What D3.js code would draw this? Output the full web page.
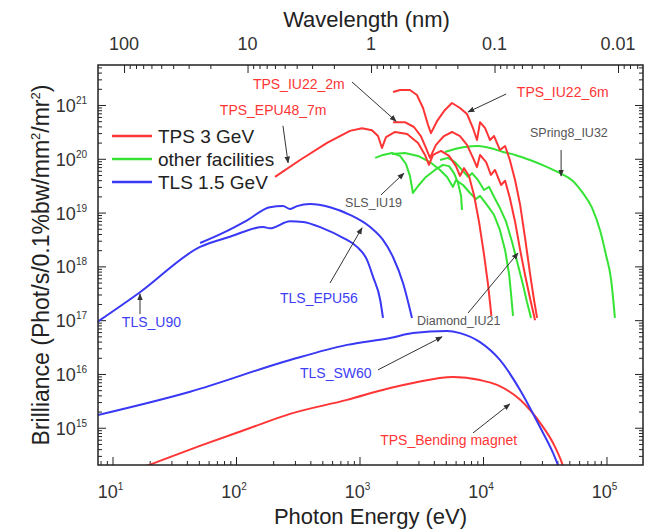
<!DOCTYPE html>
<html>
<head>
<meta charset="utf-8">
<script src="https://d3js.org/d3.v7.min.js"></script>
<style>
  body { margin: 0; background: #fff; }
  svg text { font-family: "Liberation Sans", Arial, sans-serif; }
</style>
</head>
<body>
<svg id="chart" width="650" height="530"></svg>
<script>
// photon energy (eV) and brilliance, one pair of arrays per curve
const bmE = [13.9, 19.4, 51, 130, 274, 793, 1770, 2710, 5710, 9460, 13000, 20000, 29000, 36900, 43600, 47000]
const bmB = [1.5e14, 2.0e14, 4.6e14, 9.9e14, 1.81e15, 3.3e15, 5.5e15, 6.8e15, 8.8e15, 7.7e15, 6.25e15, 3.3e15, 1.23e15, 5.2e14, 2.2e14, 1.27e14]
const sw60E = [7.0, 42.5, 274, 793, 1770, 2710, 5120, 6520, 9460, 13700, 20000, 29000, 36900, 40500, 42900]
const sw60B = [1.65e15, 4.68e15, 1.82e16, 3.47e16, 4.68e16, 5.75e16, 6.3e16, 5.75e16, 3.9e16, 1.82e16, 5.0e15, 1.02e15, 3.4e14, 2.0e14, 1.32e14]
const u90E = [7.35, 16.7, 51.2, 89.3, 166, 188, 274, 349, 507, 736, 955, 1150, 1290, 1470, 1550]
const u90B = [8.9e16, 3.3e17, 2.3e18, 3.55e18, 5.4e18, 5.1e18, 6.9e18, 6.7e18, 5.1e18, 3.4e18, 2.3e18, 1.32e18, 6.3e17, 2.4e17, 1.1e17]
const epu56E = [51.2, 78.5, 123, 188, 240, 274, 312, 397, 577, 837, 1220, 1550, 1870, 2250, 2660]
const epu56B = [2.72e18, 4.2e18, 7.2e18, 1.26e19, 1.32e19, 1.17e19, 1.32e19, 1.45e19, 1.26e19, 9.1e18, 5.4e18, 3.1e18, 1.48e18, 4.9e17, 1.1e17]
const epu48E = [207, 330, 546, 837, 1048, 1262, 1412, 1521, 1640, 1940, 2430, 2980, 3390, 3650, 3940, 4570, 5310, 6040, 6510, 7010, 7700, 8450, 9290, 10200, 11000, 11700]
const epu48B = [4.6e19, 9.5e19, 1.97e20, 3.3e20, 3.7e20, 3.4e20, 2.65e20, 1.59e20, 2.54e20, 3.15e20, 2.89e20, 1.97e20, 1.18e20, 7.7e19, 1.18e20, 1.40e20, 1.13e20, 7.3e19, 4.8e19, 6.7e19, 4.8e19, 2.12e19, 6.7e18, 1.63e18, 4.5e17, 1.2e17]
const iu6E = [1870, 2130, 2560, 2920, 3270, 3590, 3790, 4240, 4920, 5610, 6510, 7420, 8300, 8940, 9460, 10400, 11400, 12300, 13700, 15100, 16500, 18200, 20000, 21900, 24000, 25900, 27400]
const iu6B = [1.75e21, 1.9e21, 1.9e21, 1.53e21, 8.8e20, 4.25e20, 3.0e20, 5.0e20, 8.1e20, 1.09e21, 8.8e20, 6.8e20, 3.7e20, 2.23e20, 4.8e20, 3.7e20, 2.23e20, 2.65e20, 1.46e20, 1.73e20, 9.5e19, 4.0e19, 1.38e19, 3.4e18, 7.5e17, 2.37e17, 1.1e17]
const iu2E = [1870, 2330, 2760, 3140, 3450, 3720, 4160, 4830, 5610, 6510, 7420, 8300, 8940, 9460, 10600, 11600, 12500, 14000, 15100, 16500, 18200, 20000, 21900, 24000, 26400]
const iu2B = [4.8e20, 4.8e20, 3.9e20, 2.65e20, 1.59e20, 1.04e20, 1.81e20, 2.65e20, 3.15e20, 2.65e20, 1.81e20, 1.04e20, 7.0e19, 1.18e20, 8.7e19, 5.0e19, 6.2e19, 3.26e19, 3.9e19, 1.87e19, 6.7e18, 2.0e18, 6.9e17, 2.59e17, 1.0e17]
const slsE = [1340, 1550, 1830, 2130, 2380, 2560, 2710, 2980, 3450, 4080, 4740, 5310, 5820, 6280, 6640, 6760]
const slsB = [1.04e20, 1.18e20, 1.28e20, 1.13e20, 8.0e19, 4.8e19, 2.31e19, 3.12e19, 4.6e19, 6.2e19, 7.7e19, 7.3e19, 5.4e19, 3.55e19, 2.04e19, 1.12e19]
const diamondE = [1830, 2330, 2980, 3720, 4490, 5120, 5710, 6040, 6890, 7850, 8770, 9460, 10800, 12300, 13700, 15100, 16300, 16900, 17500]
const diamondB = [1.23e20, 1.28e20, 1.13e20, 8.7e19, 6.2e19, 4.6e19, 3.0e19, 4.0e19, 3.26e19, 2.31e19, 1.79e19, 2.04e19, 1.38e19, 9.0e18, 4.75e18, 2.0e18, 6.9e17, 2.94e17, 1.2e17]
const otherE = [4490, 5210, 5930, 6760, 7570, 8150, 9120, 10200, 11200, 12300, 13700, 15400, 17200, 19200, 21100, 22700, 24500]
const otherB = [9.5e19, 1.04e20, 8.7e19, 6.2e19, 4.6e19, 5.4e19, 4.0e19, 2.63e19, 3.0e19, 1.95e19, 1.22e19, 6.7e18, 2.84e18, 1.06e18, 4.5e17, 2.18e17, 1.1e17]
const spring8E = [4920, 5930, 7150, 9120, 11400, 14500, 18200, 24000, 31800, 42000, 52600, 63400, 76400, 88500, 99100, 109000, 113000, 117000]
const spring8B = [1.34e20, 1.52e20, 1.66e20, 1.73e20, 1.59e20, 1.34e20, 1.18e20, 9.5e19, 7.3e19, 5.4e19, 4.0e19, 2.42e19, 1.22e19, 4.75e18, 1.63e18, 5.6e17, 2.59e17, 1.1e17]

// legend
const legendLabels = ["TPS 3 GeV", "other facilities", "TLS 1.5 GeV"]
const legendColors = ["#ff3535", "#35e335", "#3838f5"]

// tick labels
const wlTicks = [100, 10, 1, 0.1, 0.01]
const wlTickLabels = ["100", "10", "1", "0.1", "0.01"]
const eExponents = [1, 2, 3, 4, 5]
const bExponents = [15, 16, 17, 18, 19, 20, 21]

// annotations: label position and arrow, in data units
const annoText = ["TPS_IU22_2m", "TPS_EPU48_7m", "TPS_IU22_6m", "SPring8_IU32", "SLS_IU19", "Diamond_IU21", "TLS_EPU56", "TLS_U90", "TLS_SW60", "TPS_Bending magnet"]
const annoKind = [0, 0, 0, 3, 3, 3, 2, 2, 2, 0]
const annoE = [137, 74, 18800, 24000, 764, 2920, 227, 11.9, 330, 1470]
const annoB = [1.98e21, 6.5e20, 1.41e21, 2.54e20, 1.27e19, 8.1e16, 2.09e17, 7.5e16, 8.4e15, 4.8e14]
const arrowFromE = [869, 240, 15400, 42900, 1490, 7570, 577, 16.7, 1410, 8300]
const arrowFromB = [2.68e21, 4.1e20, 1.6e21, 1.46e20, 2.12e19, 1.36e17, 4.9e17, 1.30e17, 1.19e16, 8.0e14]
const arrowToE = [1980, 264, 7570, 42900, 2290, 19200, 1048, 16.7, 4660, 16500]
const arrowToB = [5.0e20, 8.4e19, 7.4e20, 4.8e19, 5.4e19, 1.77e18, 5.2e18, 3.07e17, 4.9e16, 2.77e15]

const W = 650, H = 530
const margin = {top: 65, right: 7, bottom: 65, left: 98}
const iw = W - margin.left - margin.right
const ih = H - margin.top - margin.bottom
const hc = 1239.84 // eV nm
const eDomain = [7.63, 1.975e5]
const bDomain = [2.03e14, 5.54e21]

const x = d3.scaleLog().domain(eDomain).range([0, iw])
const y = d3.scaleLog().domain(bDomain).range([ih, 0])
const wl = d3.scaleLog().domain([hc / eDomain[0], hc / eDomain[1]]).range([0, iw])

const svg = d3.select("#chart")
const g = svg.append("g").attr("transform", `translate(${margin.left},${margin.top})`)

const defs = svg.append("defs")
defs.append("clipPath").attr("id", "plotclip")
  .append("rect").attr("width", iw).attr("height", ih)
defs.append("marker").attr("id", "arr")
  .attr("viewBox", "0 0 10 10").attr("refX", 9).attr("refY", 5)
  .attr("markerWidth", 7).attr("markerHeight", 7).attr("orient", "auto")
  .append("path").attr("d", "M0,1L10,5L0,9Z").attr("fill", "#333")

// major / minor positions on a log axis
function logTicks(lo, hi) {
  const major = [], minor = []
  for (let p = Math.floor(Math.log10(lo)); p <= Math.ceil(Math.log10(hi)); p++) {
    for (let m = 1; m < 10; m++) {
      const v = m * Math.pow(10, p)
      if (v >= lo * 0.999 && v <= hi * 1.001) (m === 1 ? major : minor).push(v)
    }
  }
  return {major, minor}
}
const xt = logTicks(eDomain[0], eDomain[1])
const yt = logTicks(bDomain[0], bDomain[1])
const wt = logTicks(hc / eDomain[1], hc / eDomain[0])

function tickAxis(axis, vals, size) {
  return sel => sel.call(axis.tickValues(vals).tickSize(-size).tickFormat(""))
    .call(s => s.select(".domain").remove())
    .call(s => s.selectAll("line").attr("stroke", "#222"))
}
;[[xt.major, 8], [xt.minor, 4]].forEach(([v, s]) => {
  g.append("g").attr("transform", `translate(0,${ih})`).call(tickAxis(d3.axisBottom(x), v, s))
})
;[[wt.major, 8], [wt.minor, 4]].forEach(([v, s]) => {
  g.append("g").call(tickAxis(d3.axisTop(wl), v, s))
})
;[[yt.major, 8], [yt.minor, 4]].forEach(([v, s]) => {
  g.append("g").call(tickAxis(d3.axisLeft(y), v, s))
  g.append("g").attr("transform", `translate(${iw},0)`).call(tickAxis(d3.axisRight(y), v, s))
})

// curves: smooth ones get a monotone curve, undulator sawtooth ones stay linear
const curves = [
  {E: bmE, B: bmB, c: legendColors[0], smooth: true},
  {E: sw60E, B: sw60B, c: legendColors[2], smooth: true},
  {E: u90E, B: u90B, c: legendColors[2], smooth: true},
  {E: epu56E, B: epu56B, c: legendColors[2], smooth: true},
  {E: slsE, B: slsB, c: legendColors[1]},
  {E: diamondE, B: diamondB, c: legendColors[1]},
  {E: otherE, B: otherB, c: legendColors[1]},
  {E: spring8E, B: spring8B, c: legendColors[1], smooth: true},
  {E: epu48E, B: epu48B, c: legendColors[0]},
  {E: iu2E, B: iu2B, c: legendColors[0]},
  {E: iu6E, B: iu6B, c: legendColors[0]}
]
const smoothLine = d3.line().x(d => x(d[0])).y(d => y(d[1])).curve(d3.curveMonotoneX)
const sharpLine = d3.line().x(d => x(d[0])).y(d => y(d[1]))
const plot = g.append("g").attr("clip-path", "url(#plotclip)")
curves.forEach(cv => {
  const pts = cv.E.map((e, i) => [e, cv.B[i]])
  plot.append("path")
    .attr("d", (cv.smooth ? smoothLine : sharpLine)(pts))
    .attr("fill", "none").attr("stroke", cv.c).attr("stroke-width", 2)
    .attr("stroke-linejoin", "round")
})

// annotations
const annoColor = ["#ff3535", "#35e335", "#3d3df5", "#555"]
annoText.forEach((t, i) => {
  g.append("line")
    .attr("x1", x(arrowFromE[i])).attr("y1", y(arrowFromB[i]))
    .attr("x2", x(arrowToE[i])).attr("y2", y(arrowToB[i]))
    .attr("stroke", "#333").attr("stroke-width", 1)
    .attr("marker-end", "url(#arr)")
  g.append("text")
    .attr("x", x(annoE[i])).attr("y", y(annoB[i]))
    .attr("fill", annoColor[annoKind[i]])
    .attr("font-size", annoKind[i] === 3 ? 12.5 : 14)
    .text(t)
})

// legend
legendLabels.forEach((t, i) => {
  const ly = 71 + i * 23
  g.append("line").attr("x1", 14).attr("x2", 54).attr("y1", ly).attr("y2", ly)
    .attr("stroke", legendColors[i]).attr("stroke-width", 2.5)
  g.append("text").attr("x", 60).attr("y", ly + 7)
    .attr("font-size", 19).attr("fill", "#222").text(t)
})

// frame
g.append("rect").attr("width", iw).attr("height", ih)
  .attr("fill", "none").attr("stroke", "#222").attr("stroke-width", 1.5)

// tick labels
wlTicks.forEach((v, i) => {
  g.append("text").attr("x", wl(v)).attr("y", -15)
    .attr("text-anchor", "middle").attr("font-size", 18).attr("fill", "#333")
    .text(wlTickLabels[i])
})
eExponents.forEach(p => {
  const t = g.append("text").attr("x", x(Math.pow(10, p)) - 2).attr("y", ih + 33)
    .attr("text-anchor", "middle").attr("font-size", 18).attr("fill", "#333")
  t.append("tspan").text("10")
  t.append("tspan").attr("dy", -8).attr("font-size", 10).text(p)
})
bExponents.forEach(p => {
  const t = g.append("text").attr("x", -11).attr("y", y(Math.pow(10, p)) + 7)
    .attr("text-anchor", "end").attr("font-size", 18).attr("fill", "#333")
  t.append("tspan").text("10")
  t.append("tspan").attr("dy", -8).attr("font-size", 10).text(p)
})

// axis titles
g.append("text").attr("x", iw / 2 - 4).attr("y", -38)
  .attr("text-anchor", "middle").attr("font-size", 22).attr("fill", "#222")
  .text("Wavelength (nm)")
g.append("text").attr("x", iw / 2).attr("y", ih + 59)
  .attr("text-anchor", "middle").attr("font-size", 22).attr("fill", "#222")
  .text("Photon Energy (eV)")
const yt2 = g.append("text")
  .attr("transform", `translate(-49,${ih / 2}) rotate(-90)`)
  .attr("text-anchor", "middle").attr("font-size", 23).attr("fill", "#222")
yt2.append("tspan").text("Brilliance (Phot/s/0.1%bw/mm")
yt2.append("tspan").attr("dy", -9).attr("font-size", 13).text("2")
yt2.append("tspan").attr("dy", 9).text("/mr")
yt2.append("tspan").attr("dy", -9).attr("font-size", 13).text("2")
yt2.append("tspan").attr("dy", 9).text(")")
</script>
</body>
</html>
